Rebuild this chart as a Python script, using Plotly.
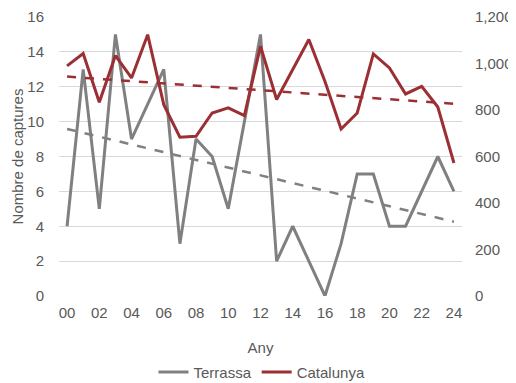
import numpy as np
import plotly.graph_objects as go

years = list(range(0, 25))
year_labels = [f"{y:02d}" for y in years]
terrassa = [4, 13, 5, 15, 9, 11, 13, 3, 9, 8, 5, 10, 15, 2, 4, 2, 0, 3, 7, 7, 4, 4, 6, 8, 6]
catalunya = [990, 1043, 833, 1034, 938, 1124, 823, 683, 687, 787, 809, 776,
             1074, 845, 974, 1103, 923, 718, 787, 1041, 981, 869, 902, 813, 572]

left_ticks = list(range(0, 17, 2))
right_ticks = list(range(0, 1201, 200))
right_tick_text = [f"{v:,}" for v in right_ticks]

GRAY = "#808080"
RED = "#9B2F33"
TXT = "#595959"
FONT = "Liberation Sans, Arial, sans-serif"
FS = 15

x = np.array(years, dtype=float)
t_fit = np.polyfit(x, terrassa, 1)
c_fit = np.polyfit(x, catalunya, 1)

fig = go.Figure()
fig.add_trace(go.Scatter(x=years, y=np.polyval(t_fit, x), mode="lines",
                         line=dict(color=GRAY, width=2.5, dash="dash"),
                         showlegend=False, yaxis="y"))
fig.add_trace(go.Scatter(x=years, y=np.polyval(c_fit, x), mode="lines",
                         line=dict(color=RED, width=2.5, dash="dash"),
                         showlegend=False, yaxis="y2"))
fig.add_trace(go.Scatter(x=years, y=terrassa, mode="lines", name="Terrassa",
                         line=dict(color=GRAY, width=3), yaxis="y"))
fig.add_trace(go.Scatter(x=years, y=catalunya, mode="lines", name="Catalunya",
                         line=dict(color=RED, width=3), yaxis="y2"))

# page body has an 8px default margin, so the figure is sized/placed to compensate
fig.update_layout(
    width=508, height=375,
    margin=dict(l=51, r=54, t=9, b=87, autoexpand=False),
    paper_bgcolor="white", plot_bgcolor="white",
    font=dict(family=FONT, size=FS, color=TXT),
    xaxis=dict(range=[-0.5, 24.5], tickvals=years[::2], ticktext=year_labels[::2],
               showgrid=False, zeroline=False, showline=False, ticks="",
               ticklabelstandoff=6,
               title=dict(text="Any", standoff=23, font=dict(size=FS, color=TXT))),
    yaxis=dict(range=[0, 16], tickvals=left_ticks, showgrid=True, gridcolor="#D9D9D9",
               gridwidth=1, zeroline=False, showline=False, ticks="",
               ticklabelstandoff=14,
               title=dict(text="Nombre de captures", standoff=0, font=dict(size=FS, color=TXT))),
    yaxis2=dict(range=[0, 1200], tickvals=right_ticks, ticktext=right_tick_text,
                overlaying="y", side="right", showgrid=False, zeroline=False,
                showline=False, ticks="", ticklabelstandoff=12),
    legend=dict(orientation="h", x=0.5, xanchor="center", xref="container",
                y=0.029, yanchor="middle", yref="container",
                font=dict(size=FS, color=TXT), bgcolor="rgba(0,0,0,0)",
                itemwidth=30, tracegroupgap=0),
)

fig.write_html("out.html")
